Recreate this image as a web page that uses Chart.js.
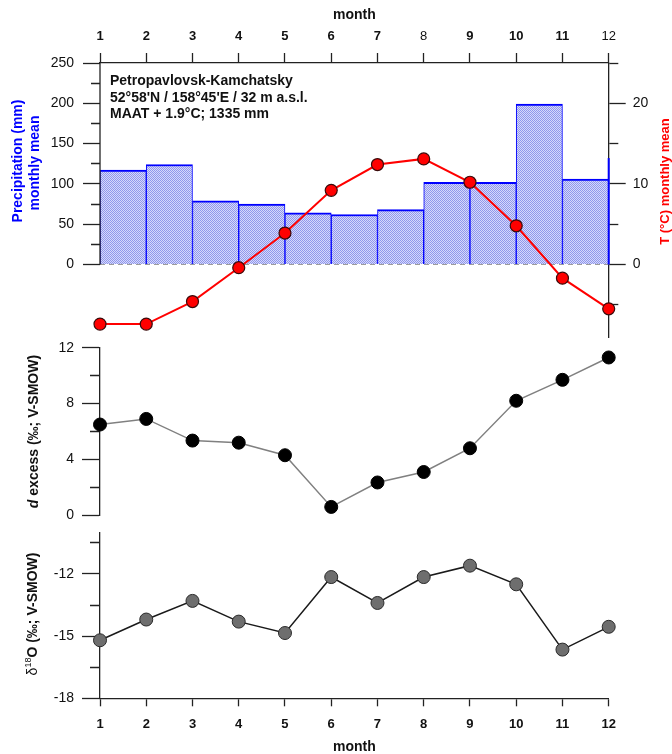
<!DOCTYPE html>
<html>
<head>
<meta charset="utf-8">
<script src="https://cdn.jsdelivr.net/npm/chart.js@4.4.1/dist/chart.umd.min.js"></script>
<style>
  html, body { margin: 0; padding: 0; background: #fff; }
  #wrap { position: relative; width: 672px; height: 754px; overflow: hidden; }
  canvas { position: absolute; left: 0; }
</style>
</head>
<body>
<div id="wrap">
  <canvas id="climate" width="672" height="345" style="top:0px"></canvas>
  <canvas id="dexcess" width="672" height="185" style="top:340px"></canvas>
  <canvas id="d18o" width="672" height="229" style="top:525px"></canvas>
</div>
<script>
// Dados
const months = [1, 2, 3, 4, 5, 6, 7, 8, 9, 10, 11, 12];
const precipitation = [117, 124, 79, 75, 64, 62, 68, 102, 102, 199, 106, 132];
const temperature = [-7.4, -7.4, -4.6, -0.4, 3.9, 9.2, 12.4, 13.1, 10.2, 4.8, -1.7, -5.5];
const dExcess = [6.5, 6.9, 5.35, 5.2, 4.3, 0.6, 2.35, 3.1, 4.8, 8.2, 9.7, 11.3];
const d18O = [-15.2, -14.2, -13.3, -14.3, -14.85, -12.15, -13.4, -12.15, -11.6, -12.5, -15.65, -14.55];

const precipTicks = [0, 25, 50, 75, 100, 125, 150, 175, 200, 225, 250];
const precipMajor = [0, 50, 100, 150, 200, 250];
const tempTicks = [-5, 0, 5, 10, 15, 20, 25];
const tempMajor = [0, 10, 20];
const dexTicks = [0, 2, 4, 6, 8, 10, 12];
const dexMajor = [0, 4, 8, 12];
const d18OTicks = [-18, -16.5, -15, -13.5, -12, -10.5];
const d18OMajor = [-18, -15, -12];
const plainTopMonths = [8, 12];

const FONT = "'Liberation Sans', Arial, sans-serif";
const AXIS = '#222';
Chart.defaults.font.family = FONT;

const tickVal = c => (c && c.tick) ? c.tick.value : null;

// sem folga extra dos rótulos: a área do gráfico fica onde o layout manda
function noLabelPadding(s) {
  s.paddingTop = 0; s.paddingBottom = 0; s.paddingLeft = 0; s.paddingRight = 0;
}

// eixo y com ticks menores (tracejado curto)
function yAxis(o) {
  const minorDash = o.position === 'left'
    ? [0, o.tickLen - o.minorLen, o.minorLen, 1000]
    : [o.minorLen, 1000];
  return {
    type: 'linear',
    position: o.position,
    min: o.min,
    max: o.max,
    afterBuildTicks: s => { s.ticks = o.ticks.map(v => ({ value: v })); },
    afterFit: s => { s.width = o.width; noLabelPadding(s); },
    border: { display: o.border !== false, color: AXIS, width: 1.3 },
    grid: {
      drawOnChartArea: false,
      tickLength: o.tickLen,
      tickColor: AXIS,
      tickWidth: 1.3,
      tickBorderDash: c => {
        const v = tickVal(c);
        return (v === null || o.major.includes(v)) ? [] : minorDash;
      }
    },
    ticks: {
      autoSkip: false,
      padding: o.pad,
      color: '#111',
      font: { family: FONT, size: 14 },
      callback: v => o.major.includes(v) ? String(v) : ''
    }
  };
}

// textos extras (títulos laterais, anotação)
function textPlugin(items, extra) {
  return {
    id: 'sideText',
    afterDatasetsDraw(chart) {
      if (extra) extra(chart);
    },
    afterDraw(chart) {
      const ctx = chart.ctx;
      items.forEach(it => {
        ctx.save();
        ctx.translate(it.x, it.y);
        ctx.rotate(it.rot || 0);
        ctx.textBaseline = 'middle';
        ctx.textAlign = 'left';
        let w = 0;
        it.parts.forEach(p => { ctx.font = p.font; w += ctx.measureText(p.t).width; });
        let x = it.align === 'left' ? 0 : -w / 2;
        it.parts.forEach(p => {
          ctx.font = p.font;
          ctx.fillStyle = p.color || it.color || '#111';
          ctx.fillText(p.t, x, p.dy || 0);
          x += ctx.measureText(p.t).width;
        });
        ctx.restore();
      });
    }
  };
}

const B14 = 'bold 14px ' + FONT;
const UP = -Math.PI / 2;

// Painel de cima: precipitação + temperatura
const ctx1 = document.getElementById('climate').getContext('2d');
const tile = document.createElement('canvas');
tile.width = 2; tile.height = 2;
const tg = tile.getContext('2d');
tg.fillStyle = '#d6d9fb'; tg.fillRect(0, 0, 2, 2);
tg.fillStyle = '#9097ec'; tg.fillRect(0, 0, 1, 1); tg.fillRect(1, 1, 1, 1);
const dots = ctx1.createPattern(tile, 'repeat');

new Chart(ctx1, {
  type: 'bar',
  data: {
    datasets: [
      {
        type: 'line',
        data: months.map((m, i) => ({ x: m, y: temperature[i] })),
        yAxisID: 'yT',
        borderColor: '#ff0000',
        borderWidth: 2,
        pointRadius: 6,
        pointBackgroundColor: '#ff0000',
        pointBorderColor: '#3a0a0a',
        pointBorderWidth: 1.2,
        clip: false,
        order: 0
      },
      {
        type: 'line',
        data: [{ x: 12, y: 0 }, { x: 12, y: precipitation[11] }],
        yAxisID: 'yP',
        borderColor: '#0000ff',
        borderWidth: 2,
        pointRadius: 0,
        clip: false,
        order: 1
      },
      {
        type: 'line',
        data: [{ x: 1, y: 0 }, { x: 12, y: 0 }],
        yAxisID: 'yP',
        borderColor: '#9a9a9a',
        borderWidth: 1,
        borderDash: [5, 4],
        pointRadius: 0,
        order: 2
      },
      {
        type: 'bar',
        data: months.slice(0, 11).map((m, i) => ({ x: m + 0.5, y: precipitation[i] })),
        yAxisID: 'yP',
        backgroundColor: dots,
        borderColor: '#0000ff',
        borderWidth: { top: 2, left: 1, right: 1, bottom: 0 },
        barPercentage: 1,
        categoryPercentage: 1,
        order: 3
      }
    ]
  },
  options: {
    animation: false,
    responsive: false,
    layout: { padding: { top: 0, left: 0, right: 0, bottom: 8 } },
    plugins: { legend: { display: false }, tooltip: { enabled: false } },
    scales: {
      x: {
        type: 'linear',
        position: 'top',
        min: 1,
        max: 12,
        offset: false,
        afterBuildTicks: s => { s.ticks = months.map(v => ({ value: v })); },
        afterFit: s => { s.height = 63; noLabelPadding(s); },
        border: { color: AXIS, width: 1.3 },
        grid: { drawOnChartArea: false, offset: false, tickLength: 10, tickColor: AXIS, tickWidth: 1.3 },
        ticks: {
          autoSkip: false,
          maxRotation: 0,
          padding: 8.5,
          color: '#111',
          font: c => ({ family: FONT, size: 13, weight: plainTopMonths.includes(tickVal(c)) ? 'normal' : 'bold' })
        },
        title: {
          display: true,
          text: 'month',
          color: '#111',
          font: { family: FONT, size: 14, weight: 'bold', lineHeight: 1.2 },
          padding: { top: 6.6, bottom: 0 }
        }
      },
      yP: yAxis({ position: 'left', min: -90, max: 250, ticks: precipTicks, major: precipMajor,
                  tickLen: 17, minorLen: 9, pad: 9, width: 100, border: false }),
      yT: yAxis({ position: 'right', min: -9, max: 25, ticks: tempTicks, major: tempMajor,
                  tickLen: 17, minorLen: 9, pad: 7, width: 63.3 })
    }
  },
  plugins: [textPlugin([
    { x: 18.5, y: 161, rot: UP, color: '#0000ff', parts: [{ t: 'Precipitation (mm)', font: B14 }] },
    { x: 35.5, y: 163, rot: UP, color: '#0000ff', parts: [{ t: 'monthly mean', font: B14 }] },
    { x: 665, y: 181.5, rot: UP, color: '#ff0000', parts: [{ t: 'T (°C) monthly mean', font: 'bold 13px ' + FONT }] },
    { x: 110, y: 81, align: 'left', parts: [{ t: 'Petropavlovsk-Kamchatsky', font: B14 }] },
    { x: 110, y: 97.7, align: 'left', parts: [{ t: "52°58'N / 158°45'E / 32 m a.s.l.", font: B14 }] },
    { x: 110, y: 114.3, align: 'left', parts: [{ t: 'MAAT + 1.9°C; 1335 mm', font: B14 }] }
  ], chart => {
    // linha do eixo de precipitação só de 0 a 250
    const ctx = chart.ctx;
    const yP = chart.scales.yP;
    const x = chart.chartArea.left;
    ctx.save();
    ctx.strokeStyle = AXIS;
    ctx.lineWidth = 1.3;
    ctx.beginPath();
    ctx.moveTo(x, yP.getPixelForValue(250));
    ctx.lineTo(x, yP.getPixelForValue(0));
    ctx.stroke();
    ctx.restore();
  })]
});

// Painel do meio: d excess
new Chart(document.getElementById('dexcess').getContext('2d'), {
  type: 'line',
  data: {
    datasets: [{
      data: months.map((m, i) => ({ x: m, y: dExcess[i] })),
      borderColor: '#808080',
      borderWidth: 1.5,
      pointRadius: 6.5,
      pointBackgroundColor: '#000',
      pointBorderColor: '#000',
      pointBorderWidth: 1,
      clip: false
    }]
  },
  options: {
    animation: false,
    responsive: false,
    layout: { padding: { top: 7.7, left: 0, right: 63.3, bottom: 9.7 } },
    plugins: { legend: { display: false }, tooltip: { enabled: false } },
    scales: {
      x: { type: 'linear', min: 1, max: 12, display: false },
      y: yAxis({ position: 'left', min: 0, max: 12, ticks: dexTicks, major: dexMajor,
                 tickLen: 18, minorLen: 10, pad: 8, width: 100 })
    }
  },
  plugins: [textPlugin([
    { x: 34, y: 91.5, rot: UP, parts: [
      { t: 'd', font: 'italic bold 14px ' + FONT },
      { t: ' excess (‰; V-SMOW)', font: B14 }
    ] }
  ])]
});

// Painel de baixo: d18O
new Chart(document.getElementById('d18o').getContext('2d'), {
  type: 'line',
  data: {
    datasets: [{
      data: months.map((m, i) => ({ x: m, y: d18O[i] })),
      borderColor: '#1a1a1a',
      borderWidth: 1.5,
      pointRadius: 6.5,
      pointBackgroundColor: '#6e6e6e',
      pointBorderColor: '#2a2a2a',
      pointBorderWidth: 1,
      clip: false
    }]
  },
  options: {
    animation: false,
    responsive: false,
    layout: { padding: { top: 6.7, left: 0, right: 63.3, bottom: 0 } },
    plugins: { legend: { display: false }, tooltip: { enabled: false } },
    scales: {
      x: {
        type: 'linear',
        position: 'bottom',
        min: 1,
        max: 12,
        afterBuildTicks: s => { s.ticks = months.map(v => ({ value: v })); },
        afterFit: s => { s.height = 55.7; noLabelPadding(s); },
        border: { color: AXIS, width: 1.3 },
        grid: { drawOnChartArea: false, tickLength: 8, tickColor: AXIS, tickWidth: 1.3 },
        ticks: {
          autoSkip: false,
          maxRotation: 0,
          padding: 9.9,
          color: '#111',
          font: { family: FONT, size: 13, weight: 'bold' }
        },
        title: {
          display: true,
          text: 'month',
          color: '#111',
          font: { family: FONT, size: 14, weight: 'bold', lineHeight: 1 },
          padding: { top: 0, bottom: 0 }
        }
      },
      y: yAxis({ position: 'left', min: -18, max: -10, ticks: d18OTicks, major: d18OMajor,
                 tickLen: 18, minorLen: 10, pad: 8, width: 100 })
    }
  },
  plugins: [textPlugin([
    { x: 33, y: 89, rot: UP, parts: [
      { t: 'δ', font: '14px ' + FONT },
      { t: '18', font: '9px ' + FONT, dy: -4 },
      { t: 'O (‰; V-SMOW)', font: B14 }
    ] }
  ])]
});
</script>
</body>
</html>
